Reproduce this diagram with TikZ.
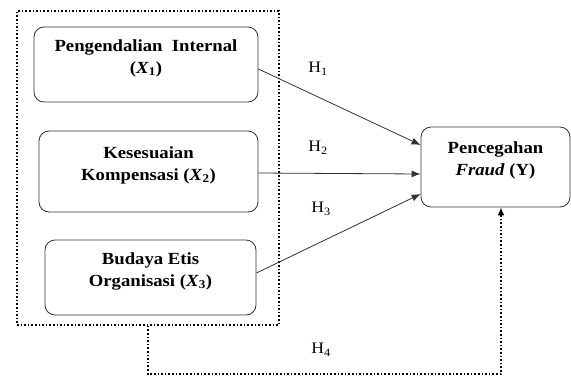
\documentclass[tikz,border=0pt]{standalone}
\usepackage{fontspec}
\setmainfont{Liberation Serif}[FakeStretch=1.1]
\usetikzlibrary{arrows.meta}

\begin{document}
\begin{tikzpicture}[x=1pt,y=-1pt,
    caja/.style={draw=black!80, line width=0.8pt, rounded corners=10pt,
      align=center, inner sep=0pt, font=\fontsize{17}{22}\selectfont\bfseries},
    flecha/.style={draw=black!80, line width=0.8pt, -{Latex[length=9pt,width=7pt]}},
    punteado/.style={line width=1.6pt, dotted},
    hipotesis/.style={inner sep=0pt, font=\fontsize{16}{18}\selectfont}]

  \useasboundingbox (0,0) rectangle (571,376);

  % Recuadro punteado de las variables X
  \node[punteado, draw, minimum width=262, minimum height=314, inner sep=0pt] (grupo) at (148,168) {};

  % Variables independientes
  \node[caja, minimum width=224, minimum height=75, text depth=16pt] (x1) at (146,64.5)
    {Pengendalian\ \ Internal\\(\textit{X}\textsubscript{1})};
  \node[caja, minimum width=219, minimum height=81, text depth=16pt] (x2) at (148.5,171.5)
    {Kesesuaian\\Kompensasi (\textit{X}\textsubscript{2})};
  \node[caja, minimum width=211, minimum height=75, text depth=16pt] (x3) at (150.5,277.5)
    {Budaya Etis\\Organisasi (\textit{X}\textsubscript{3})};

  % Variable dependiente
  \node[caja, minimum width=149, minimum height=80, text depth=16pt] (y) at (495.5,167)
    {Pencegahan\\\textit{Fraud} (Y)};

  % Flechas H1 a H3
  \draw[flecha] ([yshift=-4.5pt]x1.east) -- ([yshift=22pt]y.west);
  \draw[flecha] ([yshift=-1.5pt]x2.east) -- ([yshift=-7pt]y.west);
  \draw[flecha] ([yshift=4.5pt]x3.east) -- ([yshift=-27pt]y.west);

  % Flecha H4 (punteada)
  \draw[punteado, -{Latex[length=8pt,width=7pt]}] (grupo.south) -- ++(0,48) -| ([xshift=5.5pt]y.south);

  % Etiquetas
  \node[hipotesis] (h1) at (318,69) {H\textsubscript{1}};
  \node[hipotesis] (h2) at (318,148) {H\textsubscript{2}};
  \node[hipotesis] (h3) at (321,209) {H\textsubscript{3}};
  \node[hipotesis] (h4) at (321,350) {H\textsubscript{4}};

\end{tikzpicture}
\end{document}
